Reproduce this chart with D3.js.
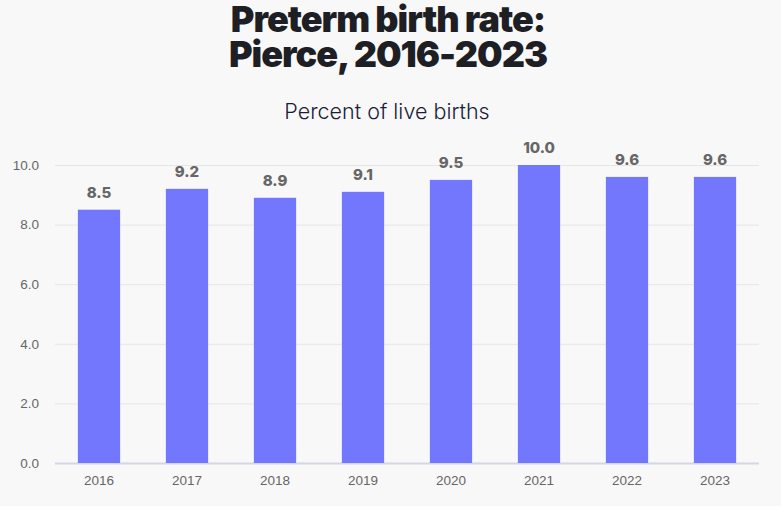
<!DOCTYPE html>
<html lang="en">
<head>
    <meta charset="UTF-8">
    <title>Preterm birth rate: Pierce</title>
    <script src="https://d3js.org/d3.v7.min.js"></script>
    <style>
        body {
            margin: 0;
            padding: 0;
            background-color: #f8f8f8;
            overflow: hidden;
        }

        svg {
            display: block;
            font-family: Inter, "Noto Sans", sans-serif;
        }

        .title {
            font-size: 36px;
            font-weight: 900;
            fill: #1e1f24;
            letter-spacing: -1px;
        }

        .subtitle {
            font-size: 21.5px;
            font-weight: 300;
            fill: #1c1c3a;
        }

        .tick text {
            font-size: 13.5px;
            fill: #666;
        }

        .value {
            font-size: 15px;
            font-weight: 800;
            fill: #666;
        }
    </style>
</head>
<body>
    <script>
        // Chart data
        const years = ["2016", "2017", "2018", "2019", "2020", "2021", "2022", "2023"];
        const rates = [8.5, 9.2, 8.9, 9.1, 9.5, 10.0, 9.6, 9.6];
        const yTicks = [0, 2, 4, 6, 8, 10];

        const width = 781;
        const height = 506;
        const margin = {top: 165, right: 22, bottom: 43, left: 55};

        const svg = d3.select("body").append("svg")
            .attr("width", width)
            .attr("height", height);

        // Title (two lines) and subtitle
        svg.append("text")
            .attr("class", "title")
            .attr("x", 388)
            .attr("y", 32)
            .attr("text-anchor", "middle")
            .text("Preterm birth rate:");

        svg.append("text")
            .attr("class", "title")
            .attr("x", 388)
            .attr("y", 67)
            .attr("text-anchor", "middle")
            .text("Pierce, 2016-2023");

        svg.append("text")
            .attr("class", "subtitle")
            .attr("x", 387)
            .attr("y", 119)
            .attr("text-anchor", "middle")
            .text("Percent of live births");

        const x = d3.scaleBand()
            .domain(years)
            .range([margin.left, width - margin.right])
            .paddingInner(0.52)
            .paddingOuter(0.26);

        const y = d3.scaleLinear()
            .domain([0, 10])
            .range([height - margin.bottom, margin.top]);

        // Gridlines + y labels
        const yAxis = svg.append("g")
            .attr("transform", `translate(${margin.left},0)`)
            .call(d3.axisLeft(y)
                .tickValues(yTicks)
                .tickFormat(d3.format(".1f"))
                .tickSize(-(width - margin.left - margin.right))
                .tickPadding(16));

        yAxis.select(".domain").remove();
        yAxis.selectAll(".tick line")
            .attr("stroke", d => d === 0 ? "#d3d6e4" : "#e6e6e6")
            .attr("stroke-width", d => d === 0 ? 2 : 1);

        // Bars
        svg.append("g")
            .selectAll("rect")
            .data(rates)
            .join("rect")
            .attr("x", (d, i) => x(years[i]))
            .attr("y", d => y(d))
            .attr("width", x.bandwidth())
            .attr("height", d => y(0) - y(d))
            .attr("fill", "#7377fd");

        // Value labels
        svg.append("g")
            .selectAll("text")
            .data(rates)
            .join("text")
            .attr("class", "value")
            .attr("x", (d, i) => x(years[i]) + x.bandwidth() / 2)
            .attr("y", d => y(d) - 12)
            .attr("text-anchor", "middle")
            .text(d => d3.format(".1f")(d));

        // x labels
        const xAxis = svg.append("g")
            .attr("transform", `translate(0,${height - margin.bottom})`)
            .call(d3.axisBottom(x).tickSize(0).tickPadding(12));

        xAxis.select(".domain").remove();
        xAxis.selectAll(".tick text").attr("fill", "#555");
    </script>
</body>
</html>
